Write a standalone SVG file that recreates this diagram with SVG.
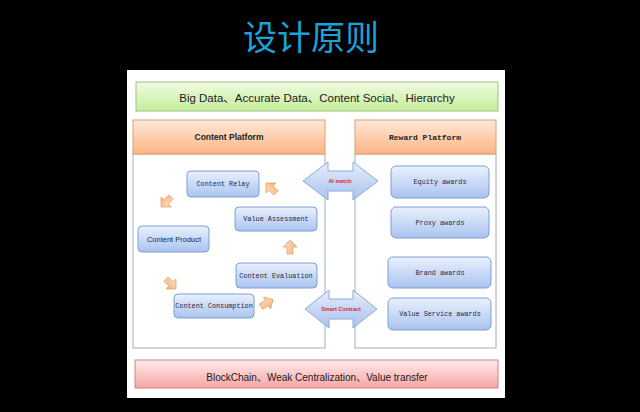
<svg xmlns="http://www.w3.org/2000/svg" width="640" height="412" viewBox="0 0 640 412">
<defs>
<linearGradient id="gGreen" x1="0" y1="0" x2="0" y2="1"><stop offset="0" stop-color="#f0fbe0"/><stop offset="1" stop-color="#c6ee9c"/></linearGradient>
<linearGradient id="gOrange" x1="0" y1="0" x2="0" y2="1"><stop offset="0" stop-color="#fee8d8"/><stop offset="1" stop-color="#fbb584"/></linearGradient>
<linearGradient id="gPink" x1="0" y1="0" x2="0" y2="1"><stop offset="0" stop-color="#ffecec"/><stop offset="1" stop-color="#f7a4a4"/></linearGradient>
<linearGradient id="gBlue" x1="0" y1="0" x2="0" y2="1"><stop offset="0" stop-color="#eaf1fd"/><stop offset="1" stop-color="#a9c3ef"/></linearGradient>
<linearGradient id="gArrow" x1="0" y1="0" x2="0" y2="1"><stop offset="0" stop-color="#e6eefb"/><stop offset="1" stop-color="#a8c2ec"/></linearGradient>
<linearGradient id="gSmall" x1="0" y1="0" x2="0" y2="1"><stop offset="0" stop-color="#fde0c6"/><stop offset="1" stop-color="#f6b07a"/></linearGradient>
<path id="sa" d="M-7,-3 L0,-3 L0,-7 L7,0 L0,7 L0,3 L-7,3 Z"/>
</defs>
<style>
.node rect{fill:url(#gBlue);stroke:#7f9fd4;stroke-width:1}
.nt{font-family:"Liberation Mono",monospace;font-size:6.8px;fill:#1f2a44;text-anchor:middle;dominant-baseline:central}
.ns{font-family:"Liberation Sans",sans-serif;font-size:7.5px;fill:#1f2a44;text-anchor:middle;dominant-baseline:central}
.hdr{fill:url(#gOrange);stroke:#e0a070;stroke-width:1}
.body{fill:#fff;stroke:#9fadc4;stroke-width:1}
.big{fill:url(#gArrow);stroke:#8eaad8;stroke-width:1}
.small{fill:url(#gSmall);stroke:#e7a26c;stroke-width:0.8}
.lbl{font-family:"Liberation Sans",sans-serif;font-size:5.5px;font-weight:bold;fill:#e0203a;text-anchor:middle;dominant-baseline:central}
</style>
<rect width="640" height="412" fill="#000"/>
<text x="311" y="50" font-family="Noto Sans CJK SC, sans-serif" font-size="34" fill="#1ba3d9" text-anchor="middle">设计原则</text>
<rect x="127" y="70" width="378" height="328" fill="#fff"/>

<g id="top-bar">
<rect x="136" y="82" width="362" height="29" fill="url(#gGreen)" stroke="#9fbf80" stroke-width="1"/>
<text x="317" y="102" font-family="Liberation Sans, Noto Sans CJK SC, sans-serif" font-size="11.5" fill="#222" text-anchor="middle">Big Data、Accurate Data、Content Social、Hierarchy</text>
</g>

<g id="content-platform">
<rect class="body" x="133" y="154" width="192" height="194"/>
<rect class="hdr" x="133" y="120" width="192" height="34"/>
<text x="229" y="137" font-family="Liberation Sans, sans-serif" font-size="8.5" font-weight="bold" fill="#222" text-anchor="middle" dominant-baseline="central">Content Platform</text>
</g>

<g id="reward-platform">
<rect class="body" x="355" y="154" width="141" height="194"/>
<rect class="hdr" x="355" y="120" width="141" height="34"/>
<text x="425" y="137" font-family="Liberation Mono, monospace" font-size="8" font-weight="bold" fill="#222" text-anchor="middle" dominant-baseline="central">Reward Platform</text>
</g>

<g id="content-relay" class="node"><rect x="187" y="171" width="72" height="26" rx="4"/><text class="nt" x="223" y="184">Content Relay</text></g>
<g id="value-assessment" class="node"><rect x="235" y="207" width="82" height="24" rx="4"/><text class="nt" x="276" y="219">Value Assessment</text></g>
<g id="content-product" class="node"><rect x="138" y="226" width="71" height="26" rx="4"/><text class="ns" x="174" y="239">Content Product</text></g>
<g id="content-evaluation" class="node"><rect x="236" y="263" width="81" height="25" rx="4"/><text class="nt" x="276" y="275.5">Content Evaluation</text></g>
<g id="content-consumption" class="node"><rect x="174" y="294" width="80" height="24" rx="4"/><text class="nt" x="214" y="306">Content Consumption</text></g>

<g id="equity-awards" class="node"><rect x="391" y="166" width="98" height="32" rx="5"/><text class="nt" x="440" y="182">Equity awards</text></g>
<g id="proxy-awards" class="node"><rect x="391" y="207" width="98" height="31" rx="5"/><text class="nt" x="440" y="222.5">Proxy awards</text></g>
<g id="brand-awards" class="node"><rect x="388" y="257" width="103" height="31" rx="5"/><text class="nt" x="440" y="272.5">Brand awards</text></g>
<g id="value-service-awards" class="node"><rect x="388" y="298" width="103" height="32" rx="5"/><text class="nt" x="440" y="314">Value Service awards</text></g>

<g id="bottom-bar">
<rect x="135" y="360" width="363" height="28" fill="url(#gPink)" stroke="#d08484" stroke-width="1"/>
<text x="317" y="381" font-family="Liberation Sans, Noto Sans CJK SC, sans-serif" font-size="10" fill="#222" text-anchor="middle">BlockChain、Weak Centralization、Value transfer</text>
</g>

<g id="connectors">
<path class="big" d="M303,181 L328,162 L328,171 L353,171 L353,162 L378,181 L353,200 L353,191 L328,191 L328,200 Z"/>
<text class="lbl" x="340" y="181">AI match</text>
<path class="big" d="M305,309 L329,290 L329,299 L353,299 L353,290 L377,309 L353,328 L353,319 L329,319 L329,328 Z"/>
<text class="lbl" x="341" y="309">Smart Contract</text>
<use href="#sa" class="small" transform="translate(271,188) rotate(-135)"/>
<use href="#sa" class="small" transform="translate(166,202) rotate(135)"/>
<use href="#sa" class="small" transform="translate(290,247) rotate(-90)"/>
<use href="#sa" class="small" transform="translate(171,284) rotate(45)"/>
<use href="#sa" class="small" transform="translate(267,303) rotate(-30)"/>
</g>
</svg>
